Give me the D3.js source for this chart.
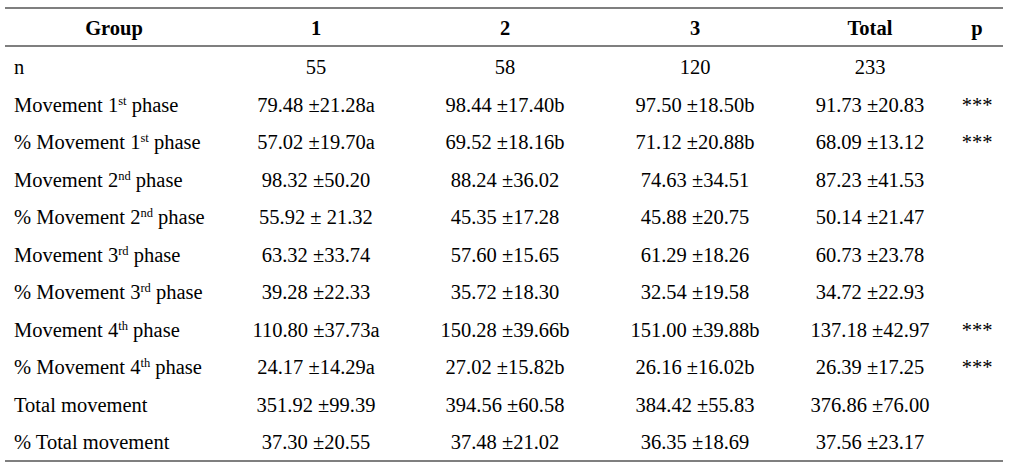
<!DOCTYPE html>
<html>
<head>
<meta charset="utf-8">
<script src="https://cdn.jsdelivr.net/npm/d3@7"></script>
<style>
  body { margin: 0; background: #fff; }
</style>
</head>
<body>
<div id="main"></div>
<script>
// table content
var headers = ["Group", "1", "2", "3", "Total", "p"];
// label parts: [text before sup, superscript, text after]
var labels = [
    ["n", "", ""],
    ["Movement 1", "st", " phase"],
    ["% Movement 1", "st", " phase"],
    ["Movement 2", "nd", " phase"],
    ["% Movement 2", "nd", " phase"],
    ["Movement 3", "rd", " phase"],
    ["% Movement 3", "rd", " phase"],
    ["Movement 4", "th", " phase"],
    ["% Movement 4", "th", " phase"],
    ["Total movement", "", ""],
    ["% Total movement", "", ""]
];
var group1 = ["55", "79.48 \u00b121.28a", "57.02 \u00b119.70a", "98.32 \u00b150.20", "55.92 \u00b1 21.32", "63.32 \u00b133.74", "39.28 \u00b122.33", "110.80 \u00b137.73a", "24.17 \u00b114.29a", "351.92 \u00b199.39", "37.30 \u00b120.55"];
var group2 = ["58", "98.44 \u00b117.40b", "69.52 \u00b118.16b", "88.24 \u00b136.02", "45.35 \u00b117.28", "57.60 \u00b115.65", "35.72 \u00b118.30", "150.28 \u00b139.66b", "27.02 \u00b115.82b", "394.56 \u00b160.58", "37.48 \u00b121.02"];
var group3 = ["120", "97.50 \u00b118.50b", "71.12 \u00b120.88b", "74.63 \u00b134.51", "45.88 \u00b120.75", "61.29 \u00b118.26", "32.54 \u00b119.58", "151.00 \u00b139.88b", "26.16 \u00b116.02b", "384.42 \u00b155.83", "36.35 \u00b118.69"];
var total = ["233", "91.73 \u00b120.83", "68.09 \u00b113.12", "87.23 \u00b141.53", "50.14 \u00b121.47", "60.73 \u00b123.78", "34.72 \u00b122.93", "137.18 \u00b142.97", "26.39 \u00b117.25", "376.86 \u00b176.00", "37.56 \u00b123.17"];
var pvals = ["", "***", "***", "", "", "", "", "***", "***", "", ""];

var width = 1012, height = 469;
var font = "'Liberation Serif', Tinos, 'DejaVu Serif', serif";

var svg = d3.select("#main").append("svg")
    .attr("width", width)
    .attr("height", height)
    .style("font-family", font);

// column centres
var colX = d3.scaleOrdinal()
    .domain(headers)
    .range([114, 316, 505, 695, 870, 977]);

// rows
var rowY = d3.scaleBand()
    .domain(d3.range(labels.length))
    .range([48.5, 461])
    .paddingInner(0)
    .paddingOuter(0);

var fs = 20.5;

// rules
var rules = [8, 46, 461];
svg.selectAll("line.rule")
    .data(rules)
    .enter().append("line")
    .attr("class", "rule")
    .attr("x1", 5)
    .attr("x2", 1003)
    .attr("y1", d => d)
    .attr("y2", d => d)
    .attr("stroke", "#555")
    .attr("stroke-width", 1.5);

// header
svg.selectAll("text.hdr")
    .data(headers)
    .enter().append("text")
    .attr("class", "hdr")
    .attr("x", d => colX(d))
    .attr("y", 28)
    .attr("dy", "0.35em")
    .attr("text-anchor", "middle")
    .attr("font-family", font)
    .attr("font-weight", "bold")
    .attr("font-size", fs)
    .text(d => d);

// row labels
var lab = svg.selectAll("text.lab")
    .data(labels)
    .enter().append("text")
    .attr("class", "lab")
    .attr("x", 14)
    .attr("y", (d, i) => rowY(i) + rowY.bandwidth() / 2)
    .attr("dy", "0.35em")
    .attr("font-family", font)
    .attr("font-size", fs);

lab.each(function (d) {
    var t = d3.select(this);
    t.append("tspan").text(d[0]);
    if (d[1]) {
        t.append("tspan")
            .attr("font-size", 12.5)
            .attr("dy", -7)
            .text(d[1]);
        t.append("tspan")
            .attr("dy", 7)
            .text(d[2]);
    }
});

// value columns
var cols = [
    { key: "1", vals: group1 },
    { key: "2", vals: group2 },
    { key: "3", vals: group3 },
    { key: "Total", vals: total },
    { key: "p", vals: pvals }
];

cols.forEach(function (c) {
    svg.selectAll("text.c" + c.key)
        .data(c.vals)
        .enter().append("text")
        .attr("class", "c" + c.key)
        .attr("x", colX(c.key))
        .attr("y", (d, i) => rowY(i) + rowY.bandwidth() / 2)
        .attr("dy", "0.35em")
        .attr("text-anchor", "middle")
        .attr("font-family", font)
        .attr("font-size", fs)
        .text(d => d);
});
</script>
</body>
</html>
